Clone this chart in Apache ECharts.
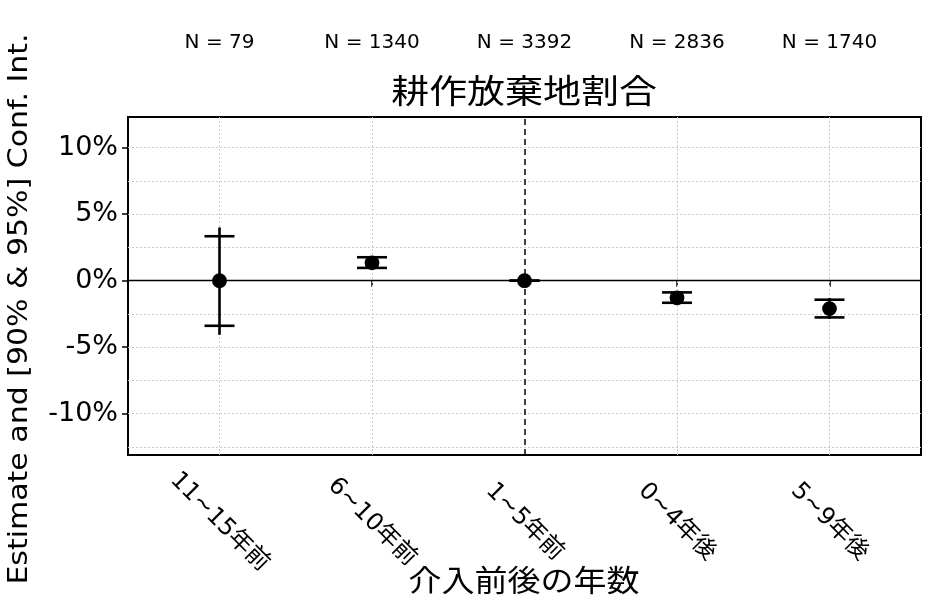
<!DOCTYPE html>
<html lang="ja">
<head>
    <meta charset="UTF-8">
    <title>耕作放棄地割合</title>
    <style>
        html, body { margin: 0; padding: 0; background: #fff; }
        #chart { width: 950px; height: 600px; }
    </style>
</head>
<body>
<div id="chart"></div>

<script src="https://cdn.jsdelivr.net/npm/echarts@6/dist/echarts.min.js"></script>
<script type="text/javascript">
    // data (percent points)
    var categories = ['11~15年前', '6~10年前', '1~5年前', '0~4年後', '5~9年後'];
    var nObs = [79, 1340, 3392, 2836, 1740];
    var estimate = [0, 1.34, 0, -1.29, -2.10];
    var ci90Low = [-3.39, 0.96, 0, -1.66, -2.76];
    var ci90High = [3.34, 1.76, 0, -0.88, -1.43];
    var ci95Low = [-4.07, 0.88, 0, -1.74, -2.88];
    var ci95High = [4.00, 1.84, 0, -0.80, -1.31];
    var yTicks = [-10, -5, 0, 5, 10];
    var yGrid = [-12.5, -10, -7.5, -5, -2.5, 2.5, 5, 7.5, 10];
    var refPeriod = 3;

    var LATIN = "'DejaVu Sans', 'Noto Sans CJK JP', sans-serif";
    var CJK = "'Noto Sans CJK JP', 'DejaVu Sans', sans-serif";
    var xPos = categories.map(function (c, i) { return i + 1; });

    var barData = categories.map(function (c, i) {
        return [i + 1, estimate[i], ci90Low[i], ci90High[i], ci95Low[i], ci95High[i]];
    });

    var gridLines = [];
    yGrid.forEach(function (v) {
        gridLines.push({yAxis: v, lineStyle: {color: '#cccccc', width: 1, type: [2, 2]}});
    });
    xPos.forEach(function (v) {
        if (v === refPeriod) {
            gridLines.push({xAxis: v, lineStyle: {color: '#000', width: 1.5, type: [6, 4]}});
        } else {
            gridLines.push({xAxis: v, lineStyle: {color: '#cccccc', width: 1, type: [2, 2]}});
        }
    });
    gridLines.push({yAxis: 0, lineStyle: {color: '#000', width: 1.3, type: 'solid'}});

    function renderBar(params, api) {
        var x = api.value(0);
        var pEst = api.coord([x, api.value(1)]);
        var lo90 = api.coord([x, api.value(2)]);
        var hi90 = api.coord([x, api.value(3)]);
        var lo95 = api.coord([x, api.value(4)]);
        var hi95 = api.coord([x, api.value(5)]);
        var half = 15;
        var st = {stroke: '#000', lineWidth: 2.6};
        return {
            type: 'group',
            children: [
                {type: 'line', shape: {x1: lo95[0], y1: lo95[1], x2: hi95[0], y2: hi95[1]}, style: st},
                {type: 'line', shape: {x1: lo90[0] - half, y1: lo90[1], x2: lo90[0] + half, y2: lo90[1]}, style: st},
                {type: 'line', shape: {x1: hi90[0] - half, y1: hi90[1], x2: hi90[0] + half, y2: hi90[1]}, style: st},
                {type: 'circle', shape: {cx: pEst[0], cy: pEst[1], r: 7.4}, style: {fill: '#000'}}
            ]
        };
    }

    var chart = echarts.init(document.getElementById('chart'));
    chart.setOption({
        animation: false,
        backgroundColor: '#fff',
        grid: {
            left: 128, right: 29, top: 117, bottom: 145,
            show: true, borderColor: '#000', borderWidth: 2, backgroundColor: '#fff'
        },
        xAxis: [{
            type: 'value', min: 0.4, max: 5.6,
            axisLine: {show: false},
            splitLine: {show: false},
            axisTick: {show: true, customValues: xPos, length: 6, lineStyle: {color: '#000', width: 1.5}},
            axisLabel: {
                customValues: xPos,
                rotate: -45, align: 'center', verticalAlign: 'middle', margin: 67,
                fontFamily: LATIN, fontSize: 24, color: '#000',
                formatter: function (v) { return categories[Math.round(v) - 1]; }
            }
        }, {
            type: 'value', position: 'top', min: 0.4, max: 5.6,
            axisLine: {show: false}, axisTick: {show: false}, splitLine: {show: false},
            axisLabel: {
                customValues: xPos, margin: 64,
                fontFamily: LATIN, fontSize: 20, color: '#000',
                formatter: function (v) { return 'N = ' + nObs[Math.round(v) - 1]; }
            }
        }],
        yAxis: {
            type: 'value', min: -13.1, max: 12.3,
            axisLine: {show: false},
            splitLine: {show: false},
            axisTick: {show: true, customValues: yTicks, length: 6, lineStyle: {color: '#000', width: 1.5}},
            axisLabel: {
                customValues: yTicks, margin: 10,
                fontFamily: LATIN, fontSize: 27, color: '#000',
                formatter: function (v) { return v + '%'; }
            }
        },
        graphic: [
            {
                type: 'text', x: 524, y: 90, scaleX: 1.15,
                style: {text: '耕作放棄地割合', font: '33px ' + CJK, fill: '#000', align: 'center', verticalAlign: 'middle'}
            },
            {
                type: 'text', x: 524, y: 580, scaleX: 1.1,
                style: {text: '介入前後の年数', font: '30px ' + CJK, fill: '#000', align: 'center', verticalAlign: 'middle'}
            },
            {
                type: 'text', x: 20, y: 309, rotation: Math.PI / 2, scaleX: 1.11,
                style: {text: 'Estimate and [90% & 95%] Conf. Int.', font: '27px ' + LATIN, fill: '#000', align: 'center', verticalAlign: 'middle'}
            }
        ],
        series: [{
            type: 'line', name: 'grid', data: [], z: 1, silent: true,
            markLine: {silent: true, symbol: ['none', 'none'], label: {show: false}, animation: false, data: gridLines}
        }, {
            type: 'custom', name: 'estimate', z: 5,
            renderItem: renderBar,
            encode: {x: 0, y: [1, 2, 3, 4, 5]},
            data: barData
        }]
    });
</script>
</body>
</html>
